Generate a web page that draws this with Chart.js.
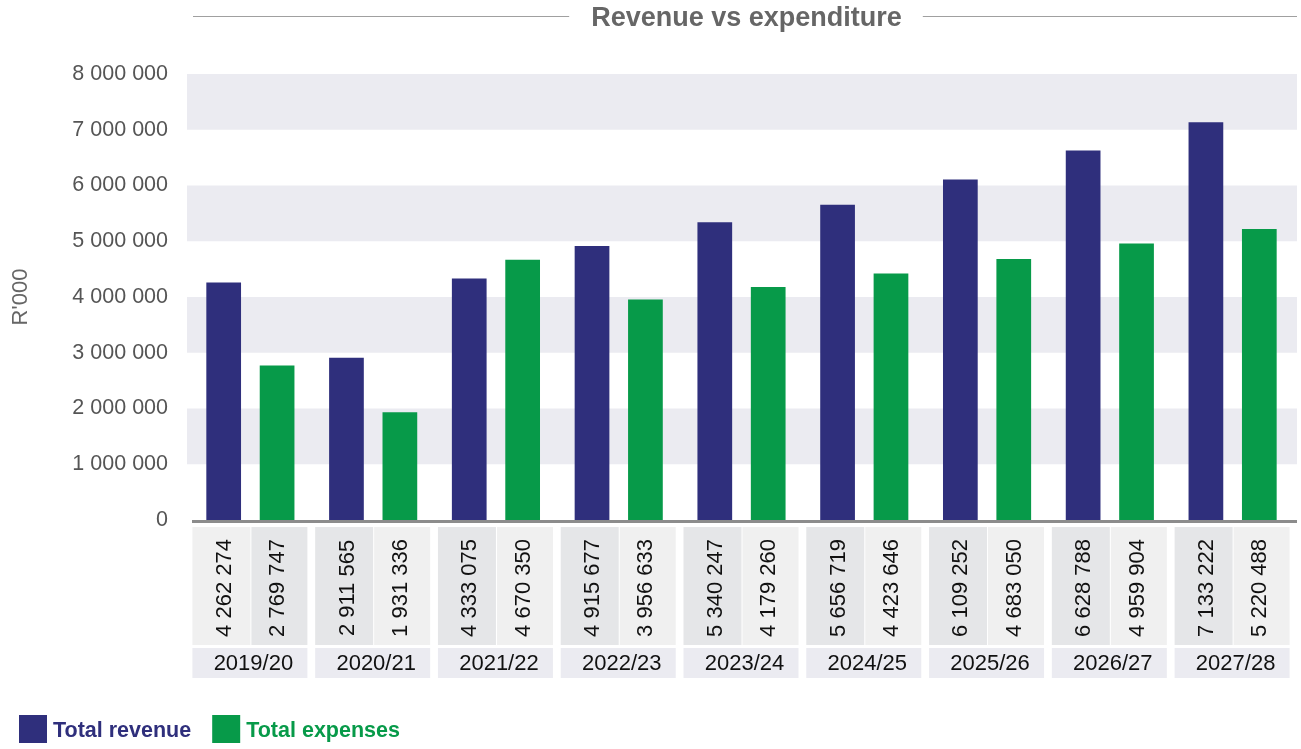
<!DOCTYPE html>
<html>
<head>
<meta charset="utf-8">
<script src="https://cdn.jsdelivr.net/npm/chart.js@4.4.1/dist/chart.umd.min.js"></script>
<style>
  html, body { margin: 0; padding: 0; background: #fff; }
  #wrap { width: 1301px; height: 749px; }
</style>
</head>
<body>
<div id="wrap"><canvas id="chart"></canvas></div>
<script>
const years = ["2019/20", "2020/21", "2021/22", "2022/23", "2023/24", "2024/25", "2025/26", "2026/27", "2027/28"];
const revenue = [4262274, 2911565, 4333075, 4915677, 5340247, 5656719, 6109252, 6628788, 7133222];
const expenses = [2769747, 1931336, 4670350, 3956633, 4179260, 4423646, 4683050, 4959904, 5220488];
const seriesNames = ["Total revenue", "Total expenses"];
const chartTitle = "Revenue vs expenditure";
const yTitle = "R'000";

const NAVY = "#2f2f7c";
const GREEN = "#079a49";
const FONT = "'Liberation Sans', Arial, Helvetica, sans-serif";

// 4262274 -> "4 262 274"
function fmt(v) {
  return String(v).replace(/\B(?=(\d{3})+(?!\d))/g, " ");
}

const decor = {
  id: "decor",
  beforeDatasetsDraw(chart) {
    const { ctx, chartArea: a, scales: { y } } = chart;
    ctx.save();
    ctx.fillStyle = "#ebebf1";
    // shaded bands every other million
    for (let v = y.max; v > y.min; v -= 2000000) {
      const t = y.getPixelForValue(v);
      const b = y.getPixelForValue(v - 1000000);
      ctx.fillRect(a.left - 2, t, a.right - a.left + 5, b - t);
    }
    ctx.restore();
  },
  afterDraw(chart) {
    const { ctx, chartArea: a, scales: { x, y } } = chart;
    ctx.save();

    // title with rules either side
    ctx.font = "bold 27px " + FONT;
    ctx.fillStyle = "#666";
    ctx.textAlign = "center";
    ctx.textBaseline = "middle";
    const cx = (a.left + a.right) / 2 + 5;
    ctx.fillText(chartTitle, cx, 19);
    const tw = ctx.measureText(chartTitle).width;
    ctx.strokeStyle = "#a0a0a0";
    ctx.lineWidth = 1;
    ctx.beginPath();
    ctx.moveTo(a.left + 4, 16.5);
    ctx.lineTo(cx - tw / 2 - 22, 16.5);
    ctx.moveTo(cx + tw / 2 + 21, 16.5);
    ctx.lineTo(a.right + 3, 16.5);
    ctx.stroke();

    // baseline
    const base = y.getPixelForValue(0);
    ctx.strokeStyle = "#8c8c8c";
    ctx.lineWidth = 3;
    ctx.beginPath();
    ctx.moveTo(a.left + 3, base + 1.5);
    ctx.lineTo(a.right + 3, base + 1.5);
    ctx.stroke();

    // data table under the bars
    const vTop = base + 7, vBot = base + 125;
    const yrTop = base + 128, yrBot = base + 158;
    const m0 = chart.getDatasetMeta(0).data;
    const m1 = chart.getDatasetMeta(1).data;
    years.forEach((yr, i) => {
      const c = (m0[i].x + m1[i].x) / 2;
      const l = c - 58, r = c + 57;
      const first = i === 0;
      ctx.fillStyle = first ? "#f0f0f0" : "#e5e6e8";
      ctx.fillRect(l, vTop, c - l, vBot - vTop);
      ctx.fillStyle = first ? "#e5e6e8" : "#f0f0f0";
      ctx.fillRect(c + 1, vTop, r - c - 1, vBot - vTop);
      ctx.fillStyle = "#ebebf1";
      ctx.fillRect(l, yrTop, r - l, yrBot - yrTop);

      ctx.fillStyle = "#111";
      ctx.font = "22px " + FONT;
      ctx.textAlign = "center";
      ctx.textBaseline = "middle";
      ctx.fillText(yr, c + 3, (yrTop + yrBot) / 2 + 1);

      [[m0[i].x, revenue[i]], [m1[i].x, expenses[i]]].forEach(([bx, v]) => {
        ctx.save();
        ctx.translate(bx + 1, (vTop + vBot) / 2 + 2);
        ctx.rotate(-Math.PI / 2);
        ctx.fillText(fmt(v), 0, 0);
        ctx.restore();
      });
    });

    // legend
    ctx.font = "bold 21.5px " + FONT;
    ctx.textAlign = "left";
    ctx.textBaseline = "middle";
    let lx = 19;
    chart.data.datasets.forEach(ds => {
      ctx.fillStyle = ds.backgroundColor;
      ctx.fillRect(lx, 715, 28, 28);
      ctx.fillText(ds.label, lx + 34, 731);
      lx += 34 + ctx.measureText(ds.label).width + 21;
    });

    ctx.restore();
  }
};

new Chart(document.getElementById("chart"), {
  type: "bar",
  data: {
    labels: years,
    datasets: [
      { label: seriesNames[0], data: revenue, backgroundColor: NAVY, borderWidth: 0 },
      { label: seriesNames[1], data: expenses, backgroundColor: GREEN, borderWidth: 0 }
    ]
  },
  options: {
    responsive: true,
    maintainAspectRatio: false,
    animation: false,
    layout: { padding: { top: 74, bottom: 229, right: 7, left: 0 } },
    datasets: { bar: { categoryPercentage: 0.87, barPercentage: 0.65 } },
    scales: {
      x: { display: false },
      y: {
        min: 0,
        max: 8000000,
        afterFit: s => { s.width = 189; },
        grid: { display: false, drawTicks: false },
        border: { display: false },
        ticks: {
          stepSize: 1000000,
          padding: 21,
          color: "#555",
          font: { family: FONT, size: 21.5 },
          callback: v => fmt(v)
        },
        title: {
          display: true,
          text: yTitle,
          color: "#666",
          font: { family: FONT, size: 22 },
          padding: { top: 8, bottom: 0 }
        }
      }
    },
    plugins: {
      legend: { display: false },
      tooltip: { enabled: false }
    }
  },
  plugins: [decor]
});
</script>
</body>
</html>
